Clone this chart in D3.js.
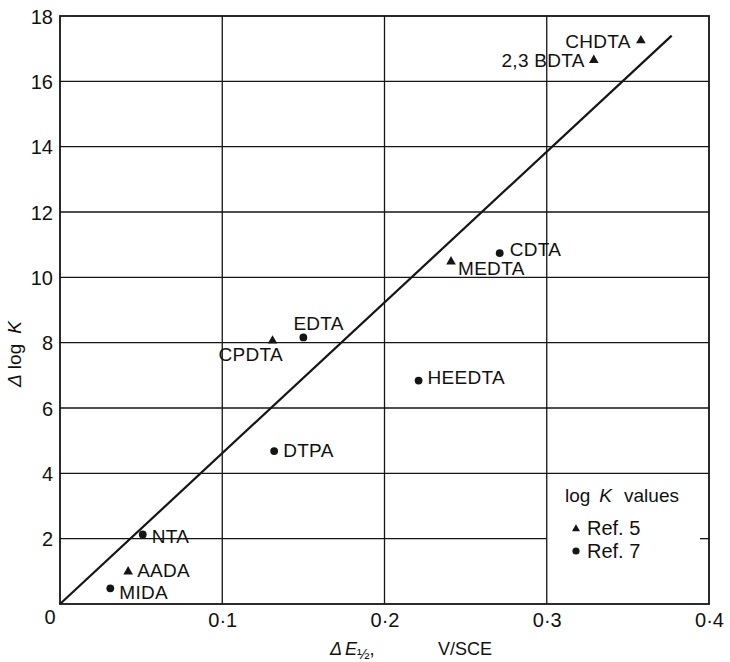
<!DOCTYPE html>
<html>
<head>
<meta charset="utf-8">
<script src="https://cdn.jsdelivr.net/npm/d3@7"></script>
<style>
  body { margin: 0; background: #fff; }
  text { font-family: "Liberation Sans", Arial, Helvetica, sans-serif; fill: #111; }
</style>
</head>
<body>
<svg id="chart" width="730" height="662"></svg>
<script>
// Stability constants of complexones vs. half-wave potential shift
// Ref. 5 log K values (triangles)
const ref5Names = ["CHDTA", "2,3 BDTA", "MEDTA", "CPDTA", "AADA"];
const ref5DeltaE = [0.358, 0.329, 0.241, 0.131, 0.042];
const ref5DeltaLogK = [17.25, 16.65, 10.48, 8.06, 0.99];

// Ref. 7 log K values (circles)
const ref7Names = ["CDTA", "HEEDTA", "EDTA", "DTPA", "NTA", "MIDA"];
const ref7DeltaE = [0.271, 0.221, 0.150, 0.132, 0.051, 0.031];
const ref7DeltaLogK = [10.74, 6.84, 8.16, 4.68, 2.13, 0.48];

// Correlation line through the origin
const fitDeltaE = [0, 0.377];
const fitDeltaLogK = [0, 17.4];

// Axis ticks
const xTicks = [0.1, 0.2, 0.3, 0.4];
const xTickLabels = ["0·1", "0·2", "0·3", "0·4"];
const yTicks = [2, 4, 6, 8, 10, 12, 14, 16, 18];

// Label placement relative to each marker
const labelPlacement = {
  "CHDTA":    { dx: -10, dy: 7,  anchor: "end" },
  "2,3 BDTA": { dx: -9,  dy: 7,  anchor: "end" },
  "MEDTA":    { dx: 7,   dy: 13, anchor: "start" },
  "CPDTA":    { dx: -54, dy: 20, anchor: "start" },
  "AADA":     { dx: 9,   dy: 5,  anchor: "start" },
  "CDTA":     { dx: 10,  dy: 3,  anchor: "start" },
  "HEEDTA":   { dx: 9,   dy: 3.5, anchor: "start" },
  "EDTA":     { dx: -10, dy: -7, anchor: "start" },
  "DTPA":     { dx: 9,   dy: 6,  anchor: "start" },
  "NTA":      { dx: 9,   dy: 9,  anchor: "start" },
  "MIDA":     { dx: 9,   dy: 11, anchor: "start" }
};

const svg = d3.select("#chart");
const plotLeft = 60, plotRight = 709, plotTop = 16, plotBottom = 604;

const x = d3.scaleLinear().domain([0, 0.4]).range([plotLeft, plotRight]);
const y = d3.scaleLinear().domain([0, 18]).range([plotBottom, plotTop]);

const ink = "#151515";

// Grid
const grid = svg.append("g").attr("stroke", ink).attr("stroke-width", 1.3);
grid.selectAll("line.v").data([0.1, 0.2, 0.3]).join("line")
  .attr("class", "v")
  .attr("x1", d => x(d)).attr("x2", d => x(d))
  .attr("y1", y(0)).attr("y2", y(18));
grid.selectAll("line.h").data(yTicks.filter(d => d < 18)).join("line")
  .attr("class", "h")
  .attr("x1", x(0))
  .attr("x2", d => d === 2 ? x(0.3) : x(0.4))
  .attr("y1", d => y(d)).attr("y2", d => y(d));
// short tick on the right edge where the legend interrupts the grid
grid.append("line")
  .attr("x1", x(0.4) - 9).attr("x2", x(0.4))
  .attr("y1", y(2)).attr("y2", y(2));

// Frame
svg.append("rect")
  .attr("x", plotLeft).attr("y", plotTop)
  .attr("width", plotRight - plotLeft).attr("height", plotBottom - plotTop)
  .attr("fill", "none").attr("stroke", ink).attr("stroke-width", 1.8);

// Axes (labels only; the grid carries the lines)
const yAxis = svg.append("g")
  .attr("transform", `translate(${plotLeft},0)`)
  .call(d3.axisLeft(y).tickValues(yTicks).tickSize(0).tickPadding(7));
const xAxis = svg.append("g")
  .attr("transform", `translate(0,${plotBottom})`)
  .call(d3.axisBottom(x).tickValues(xTicks).tickSize(0).tickPadding(9)
    .tickFormat((d, i) => xTickLabels[i]));
[yAxis, xAxis].forEach(a => {
  a.select(".domain").remove();
  a.selectAll("text").attr("font-size", 20).attr("fill", ink)
    .style("font-family", "'Liberation Sans', Arial, sans-serif");
});
yAxis.selectAll("text").attr("dy", "0.36em");
// shared origin label
svg.append("text").attr("x", 50).attr("y", 624)
  .attr("text-anchor", "middle").attr("font-size", 20).text("0");

// Correlation line
const line = d3.line().x(d => x(d[0])).y(d => y(d[1]));
svg.append("path")
  .datum(fitDeltaE.map((v, i) => [v, fitDeltaLogK[i]]))
  .attr("d", line)
  .attr("fill", "none").attr("stroke", ink).attr("stroke-width", 2.2);

// Points
const ref5 = ref5Names.map((n, i) => ({ name: n, x: ref5DeltaE[i], y: ref5DeltaLogK[i] }));
const ref7 = ref7Names.map((n, i) => ({ name: n, x: ref7DeltaE[i], y: ref7DeltaLogK[i] }));

svg.append("g").selectAll("path").data(ref5).join("path")
  .attr("d", d3.symbol().type(d3.symbolTriangle).size(40))
  .attr("transform", d => `translate(${x(d.x)},${y(d.y)})`)
  .attr("fill", ink);
svg.append("g").selectAll("circle").data(ref7).join("circle")
  .attr("cx", d => x(d.x)).attr("cy", d => y(d.y))
  .attr("r", 3.9).attr("fill", ink);

// Point labels
svg.append("g").selectAll("text").data(ref5.concat(ref7)).join("text")
  .attr("x", d => x(d.x) + labelPlacement[d.name].dx)
  .attr("y", d => y(d.y) + labelPlacement[d.name].dy)
  .attr("text-anchor", d => labelPlacement[d.name].anchor)
  .attr("font-size", 19)
  .attr("letter-spacing", 0.3)
  .text(d => d.name);

// Legend
const legend = svg.append("g");
const lt = legend.append("text").attr("x", 565).attr("y", 502).attr("font-size", 19);
lt.append("tspan").text("log");
lt.append("tspan").attr("dx", 9).attr("font-style", "italic").text("K");
lt.append("tspan").attr("dx", 12).text("values");
legend.append("path")
  .attr("d", d3.symbol().type(d3.symbolTriangle).size(28))
  .attr("transform", "translate(576,529)").attr("fill", ink);
legend.append("text").attr("x", 587).attr("y", 535).attr("font-size", 20).text("Ref. 5");
legend.append("circle").attr("cx", 576).attr("cy", 551).attr("r", 3.6).attr("fill", ink);
legend.append("text").attr("x", 587).attr("y", 558).attr("font-size", 20).text("Ref. 7");

// Axis titles
const xt = svg.append("text").attr("x", 330).attr("y", 655).attr("font-size", 18);
xt.append("tspan").attr("font-style", "italic").text("Δ");
xt.append("tspan").attr("font-style", "italic").attr("dx", 3).text("E");
xt.append("tspan").attr("font-size", 15).attr("dy", 4).text("½");
xt.append("tspan").attr("dy", -4).text(",");
svg.append("text").attr("x", 438).attr("y", 655).attr("font-size", 18).text("V/SCE");

const yt = svg.append("text")
  .attr("transform", "translate(21,354) rotate(-90)")
  .attr("text-anchor", "middle").attr("font-size", 19);
yt.append("tspan").attr("font-style", "italic").text("Δ");
yt.append("tspan").attr("dx", 5).text("log");
yt.append("tspan").attr("dx", 10).attr("font-style", "italic").text("K");
</script>
</body>
</html>
